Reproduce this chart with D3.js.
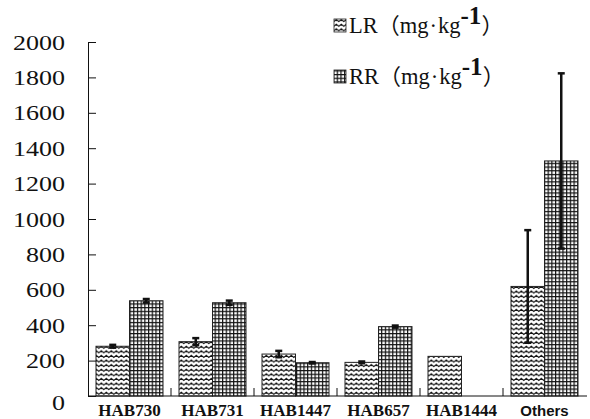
<!DOCTYPE html>
<html><head><meta charset="utf-8">
<script src="https://cdn.jsdelivr.net/npm/d3@7/dist/d3.min.js"></script>
<style>body{margin:0;background:#fff}svg{display:block}
.serif{font-family:"Liberation Serif","Times New Roman",Times,serif}
.sans{font-family:"Liberation Sans",Arial,Helvetica,sans-serif}
</style>
</head><body>
<svg id="chart" width="590" height="419"></svg>
<script>
const categories = ["HAB730","HAB731","HAB1447","HAB657","HAB1444","Others"];
const seriesNames = ["LR","RR"];
const lrValues = [281, 307, 237, 190, 224, 619];
const rrValues = [538, 527, 188, 392, 0, 1328];
const lrErrors = [8, 20, 18, 5, 0, 318];
const rrErrors = [10, 12, 4, 6, 0, 495];
const yTicks = [0,200,400,600,800,1000,1200,1400,1600,1800,2000];

const svg = d3.select("#chart");
const defs = svg.append("defs");
const pw = defs.append("pattern").attr("id","wave").attr("patternUnits","userSpaceOnUse")
  .attr("width",5).attr("height",4.6);
pw.append("rect").attr("width",5).attr("height",4.6).attr("fill","#fff");
pw.append("path").attr("d","M-1.25,3.2 L1.25,1.2 L3.75,3.2 L6.25,1.2").attr("fill","none")
  .attr("stroke","#111").attr("stroke-width",1.1);
const pg = defs.append("pattern").attr("id","grid").attr("patternUnits","userSpaceOnUse")
  .attr("width",3.7).attr("height",3.7);
pg.append("rect").attr("width",3.7).attr("height",3.7).attr("fill","#111");
pg.append("rect").attr("x",1.2).attr("y",1.2).attr("width",2.5).attr("height",2.5).attr("fill","#fff");
const fills = {LR:"url(#wave)", RR:"url(#grid)"};

const x = d3.scaleBand().domain(categories).range([88,586]).padding(0);
const xs = d3.scaleBand().domain(seriesNames).range([8, x.bandwidth()-8]).padding(0);
const y = d3.scaleLinear().domain([0,2000]).range([396,42]);

const data = [];
categories.forEach((c,i)=>{
  data.push({c, s:"LR", v:lrValues[i], e:lrErrors[i]});
  data.push({c, s:"RR", v:rrValues[i], e:rrErrors[i]});
});

svg.append("g").selectAll("rect").data(data.filter(d=>d.v>0)).join("rect")
  .attr("x", d=>x(d.c)+xs(d.s))
  .attr("y", d=>y(d.v))
  .attr("width", xs.bandwidth())
  .attr("height", d=>y(0)-y(d.v))
  .attr("fill", d=>fills[d.s])
  .attr("stroke","#222").attr("stroke-width",1);

const eb = svg.append("g").attr("stroke","#111");
data.filter(d=>d.e>0).forEach(d=>{
  const cx = x(d.c)+xs(d.s)+xs.bandwidth()/2;
  eb.append("line").attr("x1",cx).attr("x2",cx).attr("y1",y(d.v+d.e)).attr("y2",y(d.v-d.e)).attr("stroke-width",2.5);
  [d.v+d.e, d.v-d.e].forEach(v=>{
    eb.append("line").attr("x1",cx-3.5).attr("x2",cx+3.5).attr("y1",y(v)).attr("y2",y(v)).attr("stroke-width",2.5);
  });
});

const yAxis = svg.append("g").attr("transform","translate(88,0)")
  .call(d3.axisLeft(y).tickValues(yTicks).tickSizeInner(-8).tickSizeOuter(0).tickPadding(23).tickFormat(d3.format("d")));
yAxis.attr("font-family",null).attr("font-size",null);
yAxis.select(".domain").attr("stroke","#111");
yAxis.selectAll(".tick line").attr("stroke","#111");
yAxis.selectAll("text")
  .attr("x",null)
  .attr("dy",null)
  .attr("class","serif")
  .attr("transform", d=>`translate(-23,${d===0?13:7}) scale(1.24,1)`)
  .style("font-size","21px").attr("fill","#111");

const xg = svg.append("g").attr("stroke","#111");
xg.append("line").attr("x1",88).attr("x2",587).attr("y1",396).attr("y2",396);
categories.slice(1).forEach(c=>{
  xg.append("line").attr("x1",x(c)).attr("x2",x(c)).attr("y1",396).attr("y2",388);
});
svg.append("g").selectAll("text").data(categories).join("text")
  .attr("x", d=>x(d)+x.bandwidth()/2)
  .attr("y", 416)
  .attr("text-anchor","middle")
  .attr("class", d=> d==="Others" ? "sans" : "serif")
  .style("font-weight","bold")
  .style("font-size", d=> d==="Others" ? "15px" : "17px")
  .attr("fill","#111")
  .text(d=>d);

const lg = svg.append("g");
seriesNames.forEach((s,i)=>{
  const yy = 19 + i*51;
  lg.append("rect").attr("x",334).attr("y",yy).attr("width",12).attr("height",13)
    .attr("fill",fills[s]).attr("stroke","#222").attr("stroke-width",0.8);
  const t = lg.append("text").attr("x",349).attr("y",yy+14)
    .attr("class","serif")
    .style("font-size","22.5px").attr("fill","#111");
  t.append("tspan").text(s);
  t.append("tspan").style("font-family","'Noto Sans CJK SC',sans-serif").style("font-size","22px").text("（");
  t.append("tspan").text("mg");
  t.append("tspan").attr("dx",1).text("·");
  t.append("tspan").attr("dx",1).text("kg");
  t.append("tspan").attr("dy",-9).style("font-weight","bold").style("font-size","25px").text("-1");
  t.append("tspan").attr("dy",9).style("font-family","'Noto Sans CJK SC',sans-serif").style("font-size","22px").text("）");
});
</script>
</body></html>
